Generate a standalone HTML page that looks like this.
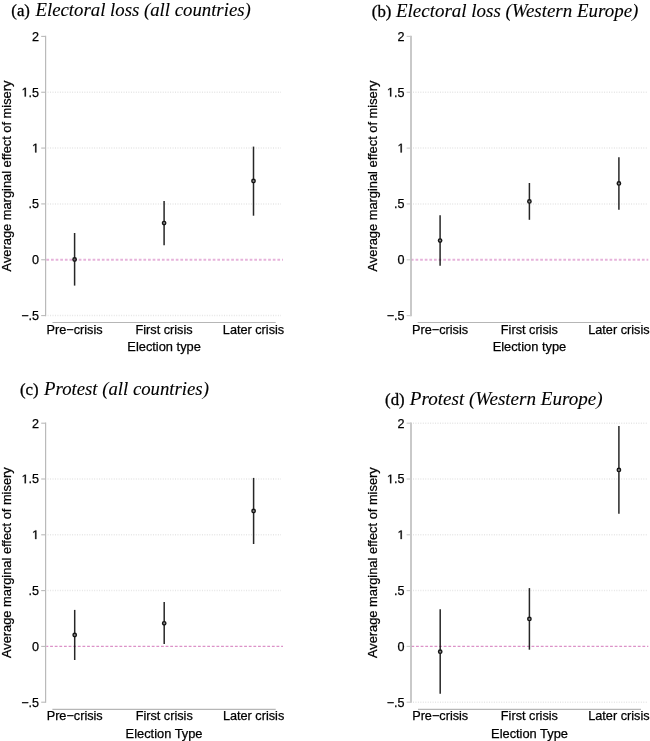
<!DOCTYPE html><html><head><meta charset="utf-8"><title>Average marginal effect of misery</title><style>html,body{margin:0;padding:0;background:#fff;overflow:hidden;}svg{display:block;filter:blur(0.25px);}.s{font-family:"Liberation Sans",sans-serif;font-size:12.6px;fill:#000;stroke:#000;stroke-width:0.25px;}.t{font-family:"Liberation Serif",serif;font-size:18px;fill:#000;stroke:#000;stroke-width:0.1px;}</style></head><body>
<svg width="650" height="741" viewBox="0 0 650 741">
<rect width="650" height="741" fill="#fff"/>
<g id="panel-a">
<line x1="47.6" y1="92.24" x2="281" y2="92.24" stroke="#e6e6e6" stroke-width="1.5" stroke-dasharray="1 1.45"/>
<line x1="47.6" y1="148.07" x2="281" y2="148.07" stroke="#e6e6e6" stroke-width="1.5" stroke-dasharray="1 1.45"/>
<line x1="47.6" y1="203.91" x2="281" y2="203.91" stroke="#e6e6e6" stroke-width="1.5" stroke-dasharray="1 1.45"/>
<line x1="47.6" y1="315.59" x2="281" y2="315.59" stroke="#e6e6e6" stroke-width="1.5" stroke-dasharray="1 1.45"/>
<line x1="45.6" y1="35.80" x2="45.6" y2="316.19" stroke="#bababa" stroke-width="1.2"/>
<line x1="41.2" y1="36.40" x2="45.6" y2="36.40" stroke="#bababa" stroke-width="1.1"/>
<text class="s" x="39.1" y="40.70" text-anchor="end">2</text>
<line x1="41.2" y1="92.24" x2="45.6" y2="92.24" stroke="#bababa" stroke-width="1.1"/>
<text class="s" x="39.1" y="96.54" text-anchor="end">.5</text>
<path d="M505,0L505,1237L197,1010L197,1180L530,1409L696,1409L696,0Z" transform="translate(21.58,96.54) scale(0.006152,-0.006152)" fill="#000" stroke="#000" stroke-width="40.6"/>
<line x1="41.2" y1="148.07" x2="45.6" y2="148.07" stroke="#bababa" stroke-width="1.1"/>
<path d="M505,0L505,1237L197,1010L197,1180L530,1409L696,1409L696,0Z" transform="translate(32.09,152.38) scale(0.006152,-0.006152)" fill="#000" stroke="#000" stroke-width="40.6"/>
<line x1="41.2" y1="203.91" x2="45.6" y2="203.91" stroke="#bababa" stroke-width="1.1"/>
<text class="s" x="39.1" y="208.21" text-anchor="end">.5</text>
<line x1="41.2" y1="259.75" x2="45.6" y2="259.75" stroke="#bababa" stroke-width="1.1"/>
<text class="s" x="39.1" y="264.05" text-anchor="end">0</text>
<line x1="41.2" y1="315.59" x2="45.6" y2="315.59" stroke="#bababa" stroke-width="1.1"/>
<text class="s" x="39.1" y="319.89" text-anchor="end">−.5</text>
<line x1="52.5" y1="322.5" x2="275.7" y2="322.5" stroke="#b6b6b6" stroke-width="1.2"/>
<text class="s" style="font-size:12.7px" x="74.6" y="333.6" text-anchor="middle">Pre−crisis</text>
<text class="s" style="font-size:12.7px" x="164.1" y="333.6" text-anchor="middle">First crisis</text>
<text class="s" style="font-size:12.7px" x="253.5" y="333.6" text-anchor="middle">Later crisis</text>
<text class="s" style="font-size:12.85px" x="164.10" y="351.3" text-anchor="middle">Election type</text>
<text class="s" transform="translate(11.1,175.99) rotate(-90)" style="font-size:12.85px" text-anchor="middle">Average marginal effect of misery</text>
<line x1="74.6" y1="233.0" x2="74.6" y2="285.6" stroke="#262626" stroke-width="1.5"/>
<circle cx="74.6" cy="259.5" r="1.7" fill="#8c8c8c" stroke="#151515" stroke-width="1.4"/>
<line x1="164.1" y1="201.1" x2="164.1" y2="245.3" stroke="#262626" stroke-width="1.5"/>
<circle cx="164.1" cy="223.1" r="1.7" fill="#8c8c8c" stroke="#151515" stroke-width="1.4"/>
<line x1="253.5" y1="146.6" x2="253.5" y2="215.7" stroke="#262626" stroke-width="1.5"/>
<circle cx="253.5" cy="181.0" r="1.7" fill="#8c8c8c" stroke="#151515" stroke-width="1.4"/>
<line x1="46.4" y1="259.75" x2="283" y2="259.75" stroke="#e6b2da" stroke-width="2.0" stroke-dasharray="2.7 1.92" stroke-dashoffset="0" style="mix-blend-mode:multiply"/>
<text class="t" style="font-size:16.8px;stroke-width:0.3px" x="11.3" y="15.7">(a)</text>
<text class="t" style="font-size:18px" x="35.53" y="15.7" font-style="italic" textLength="215.27" lengthAdjust="spacingAndGlyphs">Electoral loss (all countries)</text>
</g>
<g id="panel-b">
<line x1="413.0" y1="92.25" x2="647" y2="92.25" stroke="#e6e6e6" stroke-width="1.5" stroke-dasharray="1 1.45"/>
<line x1="413.0" y1="148.10" x2="647" y2="148.10" stroke="#e6e6e6" stroke-width="1.5" stroke-dasharray="1 1.45"/>
<line x1="413.0" y1="203.95" x2="647" y2="203.95" stroke="#e6e6e6" stroke-width="1.5" stroke-dasharray="1 1.45"/>
<line x1="411.0" y1="35.80" x2="411.0" y2="316.25" stroke="#c9c9c9" stroke-width="2.0"/>
<line x1="406.6" y1="36.40" x2="411.0" y2="36.40" stroke="#c9c9c9" stroke-width="1.1"/>
<text class="s" x="404.5" y="40.70" text-anchor="end">2</text>
<line x1="406.6" y1="92.25" x2="411.0" y2="92.25" stroke="#c9c9c9" stroke-width="1.1"/>
<text class="s" x="404.5" y="96.55" text-anchor="end">.5</text>
<path d="M505,0L505,1237L197,1010L197,1180L530,1409L696,1409L696,0Z" transform="translate(386.98,96.55) scale(0.006152,-0.006152)" fill="#000" stroke="#000" stroke-width="40.6"/>
<line x1="406.6" y1="148.10" x2="411.0" y2="148.10" stroke="#c9c9c9" stroke-width="1.1"/>
<path d="M505,0L505,1237L197,1010L197,1180L530,1409L696,1409L696,0Z" transform="translate(397.49,152.40) scale(0.006152,-0.006152)" fill="#000" stroke="#000" stroke-width="40.6"/>
<line x1="406.6" y1="203.95" x2="411.0" y2="203.95" stroke="#c9c9c9" stroke-width="1.1"/>
<text class="s" x="404.5" y="208.25" text-anchor="end">.5</text>
<line x1="406.6" y1="259.80" x2="411.0" y2="259.80" stroke="#c9c9c9" stroke-width="1.1"/>
<text class="s" x="404.5" y="264.10" text-anchor="end">0</text>
<line x1="406.6" y1="315.65" x2="411.0" y2="315.65" stroke="#c9c9c9" stroke-width="1.1"/>
<text class="s" x="404.5" y="319.95" text-anchor="end">−.5</text>
<line x1="417.7" y1="322.5" x2="641.1" y2="322.5" stroke="#b6b6b6" stroke-width="1.2"/>
<text class="s" style="font-size:12.7px" x="440.1" y="333.9" text-anchor="middle">Pre−crisis</text>
<text class="s" style="font-size:12.7px" x="529.4" y="333.9" text-anchor="middle">First crisis</text>
<text class="s" style="font-size:12.7px" x="618.9" y="333.9" text-anchor="middle">Later crisis</text>
<text class="s" style="font-size:12.85px" x="529.40" y="351.3" text-anchor="middle">Election type</text>
<text class="s" transform="translate(376.5,176.03) rotate(-90)" style="font-size:12.85px" text-anchor="middle">Average marginal effect of misery</text>
<line x1="440.1" y1="215.3" x2="440.1" y2="265.7" stroke="#262626" stroke-width="1.5"/>
<circle cx="440.1" cy="240.6" r="1.7" fill="#8c8c8c" stroke="#151515" stroke-width="1.4"/>
<line x1="529.4" y1="183.0" x2="529.4" y2="219.8" stroke="#262626" stroke-width="1.5"/>
<circle cx="529.4" cy="201.4" r="1.7" fill="#8c8c8c" stroke="#151515" stroke-width="1.4"/>
<line x1="618.9" y1="157.3" x2="618.9" y2="209.7" stroke="#262626" stroke-width="1.5"/>
<circle cx="618.9" cy="183.4" r="1.7" fill="#8c8c8c" stroke="#151515" stroke-width="1.4"/>
<line x1="411.8" y1="259.80" x2="648.3" y2="259.80" stroke="#e6b2da" stroke-width="2.0" stroke-dasharray="2.7 1.92" stroke-dashoffset="0.9" style="mix-blend-mode:multiply"/>
<text class="t" style="font-size:16.8px;stroke-width:0.3px" x="371.8" y="17.1">(b)</text>
<text class="t" style="font-size:18px" x="396.03" y="17.1" font-style="italic" textLength="242.37" lengthAdjust="spacingAndGlyphs">Electoral loss (Western Europe)</text>
</g>
<g id="panel-c">
<line x1="47.6" y1="479.00" x2="281" y2="479.00" stroke="#e6e6e6" stroke-width="1.5" stroke-dasharray="1 1.45"/>
<line x1="47.6" y1="534.80" x2="281" y2="534.80" stroke="#e6e6e6" stroke-width="1.5" stroke-dasharray="1 1.45"/>
<line x1="47.6" y1="590.60" x2="281" y2="590.60" stroke="#e6e6e6" stroke-width="1.5" stroke-dasharray="1 1.45"/>
<line x1="45.6" y1="422.60" x2="45.6" y2="702.80" stroke="#bababa" stroke-width="1.2"/>
<line x1="41.2" y1="423.20" x2="45.6" y2="423.20" stroke="#bababa" stroke-width="1.1"/>
<text class="s" x="39.1" y="427.50" text-anchor="end">2</text>
<line x1="41.2" y1="479.00" x2="45.6" y2="479.00" stroke="#bababa" stroke-width="1.1"/>
<text class="s" x="39.1" y="483.30" text-anchor="end">.5</text>
<path d="M505,0L505,1237L197,1010L197,1180L530,1409L696,1409L696,0Z" transform="translate(21.58,483.30) scale(0.006152,-0.006152)" fill="#000" stroke="#000" stroke-width="40.6"/>
<line x1="41.2" y1="534.80" x2="45.6" y2="534.80" stroke="#bababa" stroke-width="1.1"/>
<path d="M505,0L505,1237L197,1010L197,1180L530,1409L696,1409L696,0Z" transform="translate(32.09,539.10) scale(0.006152,-0.006152)" fill="#000" stroke="#000" stroke-width="40.6"/>
<line x1="41.2" y1="590.60" x2="45.6" y2="590.60" stroke="#bababa" stroke-width="1.1"/>
<text class="s" x="39.1" y="594.90" text-anchor="end">.5</text>
<line x1="41.2" y1="646.40" x2="45.6" y2="646.40" stroke="#bababa" stroke-width="1.1"/>
<text class="s" x="39.1" y="650.70" text-anchor="end">0</text>
<line x1="41.2" y1="702.20" x2="45.6" y2="702.20" stroke="#bababa" stroke-width="1.1"/>
<text class="s" x="39.1" y="706.50" text-anchor="end">−.5</text>
<line x1="52.4" y1="709.4" x2="275.7" y2="709.4" stroke="#b6b6b6" stroke-width="1.2"/>
<text class="s" style="font-size:12.7px" x="74.7" y="720.1" text-anchor="middle">Pre−crisis</text>
<text class="s" style="font-size:12.7px" x="164.2" y="720.1" text-anchor="middle">First crisis</text>
<text class="s" style="font-size:12.7px" x="253.6" y="720.1" text-anchor="middle">Later crisis</text>
<text class="s" style="font-size:12.85px" x="164.05" y="738.2" text-anchor="middle">Election Type</text>
<text class="s" transform="translate(11.1,562.70) rotate(-90)" style="font-size:12.85px" text-anchor="middle">Average marginal effect of misery</text>
<line x1="74.7" y1="609.9" x2="74.7" y2="660.0" stroke="#262626" stroke-width="1.5"/>
<circle cx="74.7" cy="635.0" r="1.7" fill="#8c8c8c" stroke="#151515" stroke-width="1.4"/>
<line x1="164.2" y1="602.1" x2="164.2" y2="644.1" stroke="#262626" stroke-width="1.5"/>
<circle cx="164.2" cy="623.3" r="1.7" fill="#8c8c8c" stroke="#151515" stroke-width="1.4"/>
<line x1="253.6" y1="477.9" x2="253.6" y2="544.0" stroke="#262626" stroke-width="1.5"/>
<circle cx="253.6" cy="511.0" r="1.7" fill="#8c8c8c" stroke="#151515" stroke-width="1.4"/>
<line x1="46.4" y1="646.40" x2="283" y2="646.40" stroke="#dc92c8" stroke-width="1.4" stroke-dasharray="2.8 1.82" stroke-dashoffset="0.9" style="mix-blend-mode:multiply"/>
<text class="t" style="font-size:16.8px;stroke-width:0.3px" x="20.0" y="394.9">(c)</text>
<text class="t" style="font-size:18px" x="44.11" y="394.9" font-style="italic" textLength="164.79" lengthAdjust="spacingAndGlyphs">Protest (all countries)</text>
</g>
<g id="panel-d">
<line x1="413.0" y1="423.20" x2="647" y2="423.20" stroke="#e6e6e6" stroke-width="1.5" stroke-dasharray="1 1.45"/>
<line x1="413.0" y1="479.00" x2="647" y2="479.00" stroke="#e6e6e6" stroke-width="1.5" stroke-dasharray="1 1.45"/>
<line x1="413.0" y1="534.80" x2="647" y2="534.80" stroke="#e6e6e6" stroke-width="1.5" stroke-dasharray="1 1.45"/>
<line x1="413.0" y1="590.60" x2="647" y2="590.60" stroke="#e6e6e6" stroke-width="1.5" stroke-dasharray="1 1.45"/>
<line x1="413.0" y1="702.20" x2="647" y2="702.20" stroke="#e6e6e6" stroke-width="1.5" stroke-dasharray="1 1.45"/>
<line x1="411.0" y1="422.60" x2="411.0" y2="702.80" stroke="#c9c9c9" stroke-width="2.0"/>
<line x1="406.6" y1="423.20" x2="411.0" y2="423.20" stroke="#c9c9c9" stroke-width="1.1"/>
<text class="s" x="404.5" y="427.50" text-anchor="end">2</text>
<line x1="406.6" y1="479.00" x2="411.0" y2="479.00" stroke="#c9c9c9" stroke-width="1.1"/>
<text class="s" x="404.5" y="483.30" text-anchor="end">.5</text>
<path d="M505,0L505,1237L197,1010L197,1180L530,1409L696,1409L696,0Z" transform="translate(386.98,483.30) scale(0.006152,-0.006152)" fill="#000" stroke="#000" stroke-width="40.6"/>
<line x1="406.6" y1="534.80" x2="411.0" y2="534.80" stroke="#c9c9c9" stroke-width="1.1"/>
<path d="M505,0L505,1237L197,1010L197,1180L530,1409L696,1409L696,0Z" transform="translate(397.49,539.10) scale(0.006152,-0.006152)" fill="#000" stroke="#000" stroke-width="40.6"/>
<line x1="406.6" y1="590.60" x2="411.0" y2="590.60" stroke="#c9c9c9" stroke-width="1.1"/>
<text class="s" x="404.5" y="594.90" text-anchor="end">.5</text>
<line x1="406.6" y1="646.40" x2="411.0" y2="646.40" stroke="#c9c9c9" stroke-width="1.1"/>
<text class="s" x="404.5" y="650.70" text-anchor="end">0</text>
<line x1="406.6" y1="702.20" x2="411.0" y2="702.20" stroke="#c9c9c9" stroke-width="1.1"/>
<text class="s" x="404.5" y="706.50" text-anchor="end">−.5</text>
<line x1="418.0" y1="709.4" x2="641.0" y2="709.4" stroke="#b6b6b6" stroke-width="1.2"/>
<text class="s" style="font-size:12.7px" x="440.2" y="720.1" text-anchor="middle">Pre−crisis</text>
<text class="s" style="font-size:12.7px" x="529.4" y="720.1" text-anchor="middle">First crisis</text>
<text class="s" style="font-size:12.7px" x="618.9" y="720.1" text-anchor="middle">Later crisis</text>
<text class="s" style="font-size:12.85px" x="529.50" y="738.2" text-anchor="middle">Election Type</text>
<text class="s" transform="translate(376.5,562.70) rotate(-90)" style="font-size:12.85px" text-anchor="middle">Average marginal effect of misery</text>
<line x1="440.2" y1="609.2" x2="440.2" y2="693.8" stroke="#262626" stroke-width="1.5"/>
<circle cx="440.2" cy="651.7" r="1.7" fill="#8c8c8c" stroke="#151515" stroke-width="1.4"/>
<line x1="529.4" y1="588.1" x2="529.4" y2="649.7" stroke="#262626" stroke-width="1.5"/>
<circle cx="529.4" cy="618.9" r="1.7" fill="#8c8c8c" stroke="#151515" stroke-width="1.4"/>
<line x1="618.9" y1="425.9" x2="618.9" y2="513.8" stroke="#262626" stroke-width="1.5"/>
<circle cx="618.9" cy="469.9" r="1.7" fill="#8c8c8c" stroke="#151515" stroke-width="1.4"/>
<line x1="411.8" y1="646.40" x2="648.3" y2="646.40" stroke="#dc92c8" stroke-width="1.4" stroke-dasharray="2.8 1.82" stroke-dashoffset="0.4" style="mix-blend-mode:multiply"/>
<text class="t" style="font-size:16.8px;stroke-width:0.3px" x="385.1" y="404.5">(d)</text>
<text class="t" style="font-size:18px" x="409.81" y="404.5" font-style="italic" textLength="192.79" lengthAdjust="spacingAndGlyphs">Protest (Western Europe)</text>
</g>
</svg></body></html>
